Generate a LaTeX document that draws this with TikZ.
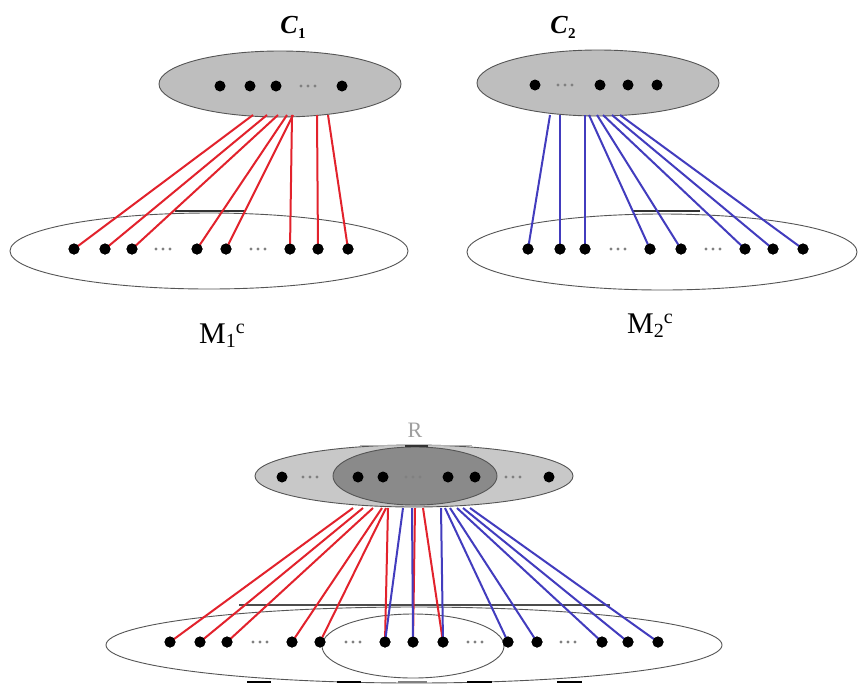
\documentclass[tikz,border=0pt]{standalone}
\usepackage{fontspec}
\setmainfont{Liberation Serif}
\usetikzlibrary{shapes.geometric}
\definecolor{myred}{RGB}{226,34,44}
\definecolor{myblue}{RGB}{66,60,190}
\definecolor{setgray}{RGB}{190,190,190}
\definecolor{lightset}{RGB}{200,200,200}
\definecolor{darkset}{RGB}{138,138,138}
\definecolor{outline}{RGB}{85,85,85}
\tikzset{
  dot/.style={circle, fill=black, inner sep=0pt, minimum size=11pt},
  setshape/.style={ellipse, draw=outline, line width=0.9pt, inner sep=0pt},
  redl/.style={draw=myred, line width=2pt},
  bluel/.style={draw=myblue, line width=2pt},
  artline/.style={draw=black!80, line width=1.5pt},
  ellp/.pic={\foreach \k in {-7,0,7} \fill[gray] (\k,0) circle (1.6pt);},
  lab/.style={inner sep=0pt, font=\fontsize{30}{36}\selectfont},
  clab/.style={inner sep=0pt, font=\fontsize{26}{26}\selectfont\bfseries\itshape},
}
\begin{document}
\begin{tikzpicture}[x=1pt,y=-1pt]
\useasboundingbox (0,0) rectangle (858,686);
\fill[white] (0,0) rectangle (858,686);

% ---------------- panel 1 ----------------
\node[setshape, fill=setgray, minimum width=242pt, minimum height=66pt] (T1) at (280,84) {};
\node[setshape, fill=white, minimum width=398pt, minimum height=76pt] (B1) at (209,251) {};
\node[clab] (C1) at (293,27) {C\kern0.5pt\raisebox{-5pt}{\fontsize{15}{15}\selectfont\upshape\bfseries 1}};
\foreach \x [count=\i] in {220,250,276,342} \node[dot] (t1\i) at (\x,86) {};
\pic at (308,86) {ellp};
\foreach \x [count=\i] in {74,105,132,197,226,290,318,348} \node[dot] (b1\i) at (\x,249) {};
\pic at (163,249) {ellp};
\pic at (258,249) {ellp};
\coordinate (h1a) at (175,211); \coordinate (h1b) at (245,211);
\draw[artline] (h1a) -- (h1b);
\foreach \s/\t [count=\i] in {253/1,267/2,278/3,287/4,293/5,292/6,317/7,328/8}{
  \coordinate (s1\i) at (\s,115);
  \draw[redl] (s1\i) -- (b1\t.center);
}
\foreach \x [count=\i] in {74,105,132,197,226,290,318,348} \node[dot] at (b1\i) {};
\node[lab] (M1) at (222,336) {M\raisebox{-4pt}{\fontsize{20}{20}\selectfont 1}\raisebox{10pt}{\fontsize{20}{20}\selectfont c}};

% ---------------- panel 2 ----------------
\node[setshape, fill=setgray, minimum width=242pt, minimum height=66pt] (T2) at (598,83) {};
\node[setshape, fill=white, minimum width=390pt, minimum height=76pt] (B2) at (662,252) {};
\node[clab] (C2) at (563,27) {C\kern0.5pt\raisebox{-5pt}{\fontsize{15}{15}\selectfont\upshape\bfseries 2}};
\foreach \x [count=\i] in {535,600,628,657} \node[dot] (t2\i) at (\x,85) {};
\pic at (565,85) {ellp};
\foreach \x [count=\i] in {528,560,585,650,681,745,773,803} \node[dot] (b2\i) at (\x,249) {};
\pic at (618,249) {ellp};
\pic at (713,249) {ellp};
\coordinate (h2a) at (633,211); \coordinate (h2b) at (700,211);
\draw[artline] (h2a) -- (h2b);
\foreach \s/\t [count=\i] in {550/1,560/2,585/3,589/4,597/5,603/6,612/7,620/8}{
  \coordinate (s2\i) at (\s,115);
  \draw[bluel] (s2\i) -- (b2\t.center);
}
\foreach \x [count=\i] in {528,560,585,650,681,745,773,803} \node[dot] at (b2\i) {};
\node[lab] (M2) at (650,326) {M\raisebox{-4pt}{\fontsize{20}{20}\selectfont 2}\raisebox{10pt}{\fontsize{20}{20}\selectfont c}};

% ---------------- panel 3 ----------------
\node[setshape, fill=lightset, minimum width=318pt, minimum height=62pt] (TO) at (414,476) {};
\node[setshape, fill=darkset, minimum width=164pt, minimum height=58pt] (TI) at (415,476) {};
\coordinate (ta) at (360,445); \coordinate (tb) at (472,445);
\draw[draw=gray!60, line width=1pt] (ta) -- (tb);
\coordinate (tc) at (405,446); \coordinate (td) at (428,446);
\draw[artline] (tc) -- (td);
\node[inner sep=0pt, text=gray!75, font=\fontsize{22}{22}\selectfont] (R) at (415,430) {R};
\foreach \x [count=\i] in {282,358,383,448,475,549} \node[dot] (t3\i) at (\x,477) {};
\pic at (310,477) {ellp};
\pic at (413,477) {ellp};
\pic at (513,477) {ellp};

\node[setshape, fill=white, minimum width=616pt, minimum height=76pt] (BO) at (414,645) {};
\node[setshape, minimum width=182pt, minimum height=64pt] (BI) at (413,646) {};
\coordinate (h3a) at (239,605); \coordinate (h3b) at (610,605);
\draw[draw=black!70, line width=1.2pt] (h3a) -- (h3b);
\foreach \a/\b in {247/271,337/361,467/492,557/582}{
  \coordinate (ua) at (\a,682); \coordinate (ub) at (\b,682);
  \draw[draw=black, line width=2.5pt] (ua) -- (ub);
}
\coordinate (uc) at (398,682); \coordinate (ud) at (427,682);
\draw[draw=gray, line width=2.5pt] (uc) -- (ud);

\foreach \x [count=\i] in {170,200,227,292,320,385,413,443,508,537,602,628,658} \node[dot] (b3\i) at (\x,642) {};
\pic at (260,642) {ellp};
\pic at (353,642) {ellp};
\pic at (475,642) {ellp};
\pic at (568,642) {ellp};

% red connectors
\foreach \s/\t [count=\i] in {353/1,363/2,373/3,382/4,386/5,388/6,415/7,423/8}{
  \coordinate (r3\i) at (\s,508);
  \draw[redl] (r3\i) -- (b3\t.center);
}
% blue connectors
\foreach \s/\t [count=\i] in {403/6,412/7,441/8,445/9,450/10,457/11,463/12,470/13}{
  \coordinate (u3\i) at (\s,508);
  \draw[bluel] (u3\i) -- (b3\t.center);
}
\foreach \x [count=\i] in {170,200,227,292,320,385,413,443,508,537,602,628,658} \node[dot] at (b3\i) {};
\end{tikzpicture}
\end{document}
